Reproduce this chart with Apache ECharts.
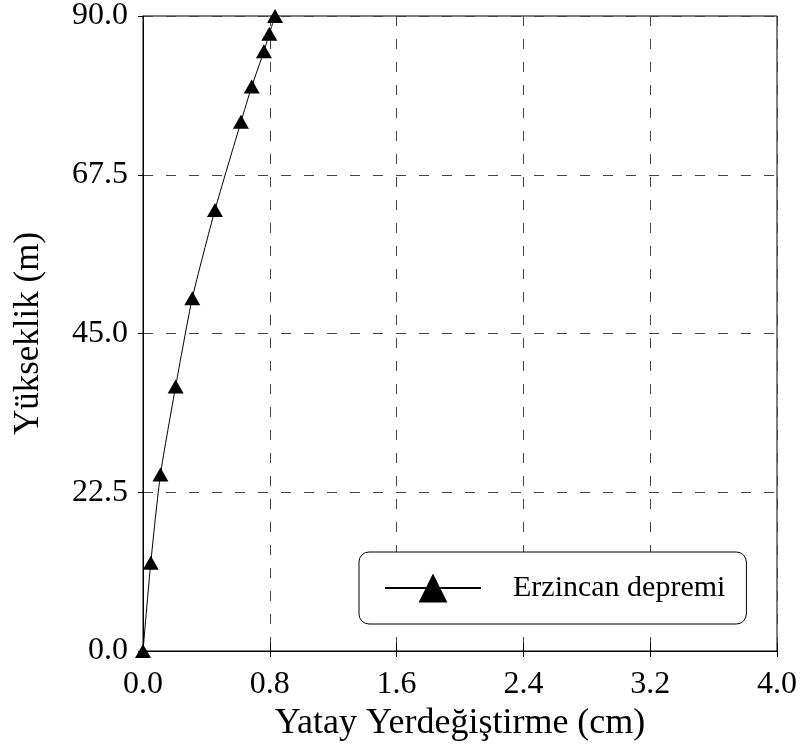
<!DOCTYPE html>
<html>
<head>
<meta charset="utf-8">
<script src="https://cdn.jsdelivr.net/npm/echarts@6/dist/echarts.min.js"></script>
<style>
html,body{margin:0;padding:0;background:#fff;}
#chart{width:802px;height:749px;}
</style>
</head>
<body>
<div id="chart"></div>
<script>
// Data
const seriesName = 'Erzincan depremi';
const displacement = [0, 0.049, 0.11, 0.206, 0.311, 0.454, 0.618, 0.686, 0.763, 0.797, 0.833]; // cm
const height = [0, 12.5, 25, 37.5, 50, 62.5, 75, 80, 85, 87.5, 90]; // m
const xTitle = 'Yatay Yerdeğiştirme (cm)';
const yTitle = 'Yükseklik (m)';

const FONT = "'Liberation Serif', 'Times New Roman', serif";
const points = displacement.map((x, i) => [x, height[i]]);

const chart = echarts.init(document.getElementById('chart'), null, {renderer: 'canvas'});
const gridDash = {color: '#444', type: [10, 13], width: 1};

chart.setOption({
  backgroundColor: '#fff',
  animation: false,
  grid: {left: 143, right: 25, top: 16, bottom: 98, show: true, borderColor: '#000', borderWidth: 1, backgroundColor: 'transparent'},
  legend: {
    data: [seriesName],
    left: 359, top: 552,
    orient: 'horizontal',
    padding: [21, 21, 21, 25],
    itemWidth: 96, itemHeight: 36,
    backgroundColor: '#fff',
    borderColor: '#000', borderWidth: 1, borderRadius: 10,
    textStyle: {fontFamily: FONT, fontSize: 30, color: '#000', padding: [0, 0, 0, 27]}
  },
  xAxis: [{
    type: 'value', min: 0, max: 4, interval: 0.8, position: 'bottom',
    name: xTitle, nameLocation: 'middle', nameGap: 52,
    nameTextStyle: {fontFamily: FONT, fontSize: 36, color: '#000'},
    axisLine: {show: true, lineStyle: {color: '#000', width: 1}},
    axisTick: {show: true, inside: false, length: 6, lineStyle: {color: '#000'}},
    axisLabel: {fontFamily: FONT, fontSize: 32, color: '#000', margin: 18, formatter: v => v.toFixed(1)},
    splitLine: {show: true, lineStyle: gridDash}
  }, {
    type: 'value', min: 0, max: 4, interval: 0.8, position: 'bottom',
    axisLine: {show: false},
    axisTick: {show: true, inside: true, length: 8, lineStyle: {color: '#000'}},
    axisLabel: {show: false},
    splitLine: {show: false}
  }],
  yAxis: {
    type: 'value', min: 0, max: 90, interval: 22.5,
    name: yTitle, nameLocation: 'middle', nameGap: 97,
    nameTextStyle: {fontFamily: FONT, fontSize: 35, color: '#000'},
    axisLine: {show: true, lineStyle: {color: '#000', width: 1}},
    axisTick: {show: true, inside: false, length: 5, lineStyle: {color: '#000'}},
    axisLabel: {fontFamily: FONT, fontSize: 32, color: '#000', margin: 15, formatter: v => v.toFixed(1)},
    splitLine: {show: true, lineStyle: gridDash}
  },
  series: [{
    name: seriesName,
    type: 'line',
    data: points,
    smooth: 0.2,
    symbol: 'triangle',
    symbolSize: [16, 14],
    showAllSymbol: true,
    clip: false,
    lineStyle: {color: '#000', width: 1},
    itemStyle: {color: '#000'},
    z: 5
  }]
});
</script>
</body>
</html>
